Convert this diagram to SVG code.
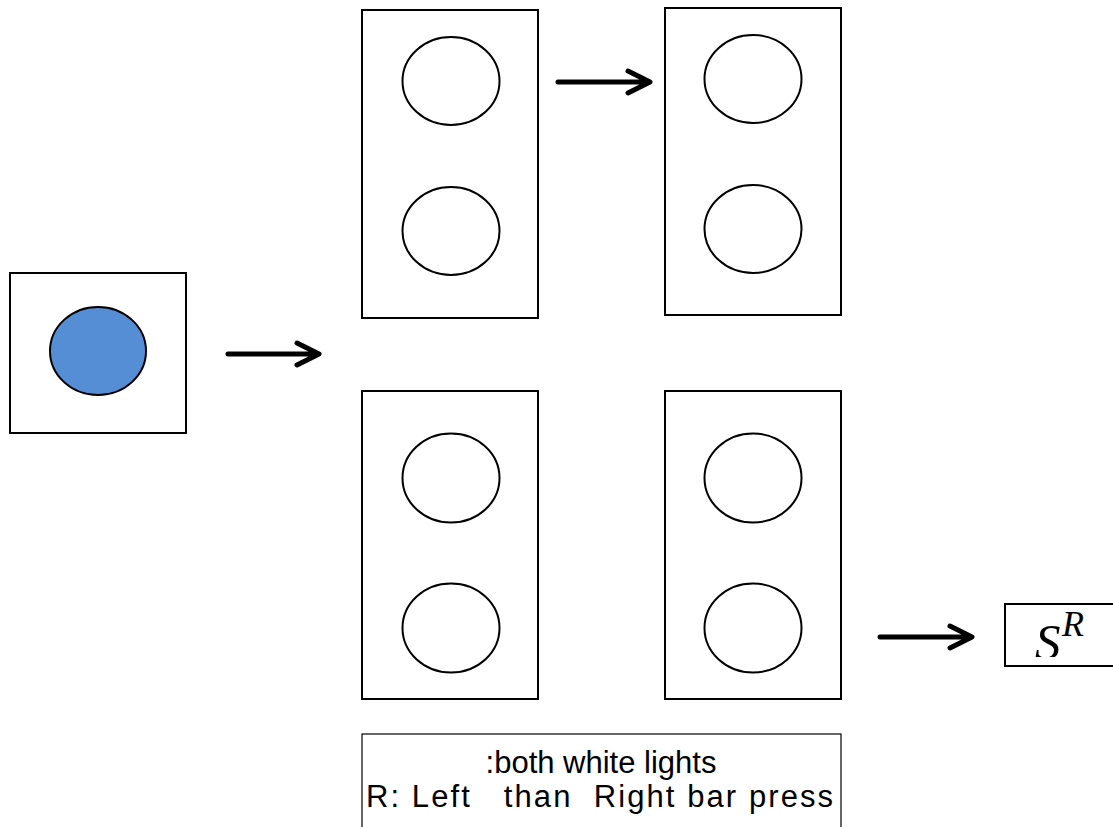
<svg xmlns="http://www.w3.org/2000/svg" width="1113" height="827" viewBox="0 0 1113 827">
  <style>
    .box { fill: #ffffff; stroke: #000000; stroke-width: 2; }
    .lamp { fill: #ffffff; stroke: #000000; stroke-width: 2; }
    .lamp-on { fill: #558ed5; stroke: #000000; stroke-width: 2; }
    .arrow { fill: none; stroke: #000000; stroke-width: 5; stroke-linecap: round; stroke-linejoin: round; }
    .label { font-family: "Liberation Sans", Arial, sans-serif; font-size: 31px; fill: #000000; }
    .math { font-family: "Liberation Serif", "Times New Roman", serif; font-style: italic; fill: #000000; }
  </style>
  <defs>
    <clipPath id="sr-clip">
      <rect x="1006" y="604" width="107" height="53"/>
    </clipPath>
  </defs>
  <rect width="1113" height="827" fill="#ffffff"/>

  <!-- sample stimulus: single blue light -->
  <g id="start">
    <rect class="box" x="10" y="273" width="176" height="160"/>
    <ellipse class="lamp-on" cx="98" cy="351" rx="48" ry="44"/>
  </g>

  <!-- choice panels, top row -->
  <g id="panel-top-left">
    <rect class="box" x="362" y="10" width="176" height="308"/>
    <ellipse class="lamp" cx="451" cy="81" rx="48.5" ry="44"/>
    <ellipse class="lamp" cx="451" cy="231" rx="48.5" ry="44"/>
  </g>
  <g id="panel-top-right">
    <rect class="box" x="665" y="8" width="176" height="307"/>
    <ellipse class="lamp" cx="753" cy="79" rx="48.5" ry="44"/>
    <ellipse class="lamp" cx="753" cy="229" rx="48.5" ry="44"/>
  </g>

  <!-- choice panels, bottom row -->
  <g id="panel-bottom-left">
    <rect class="box" x="362" y="391" width="176" height="308"/>
    <ellipse class="lamp" cx="451" cy="478" rx="48.5" ry="44.5"/>
    <ellipse class="lamp" cx="451" cy="628" rx="48.5" ry="44.5"/>
  </g>
  <g id="panel-bottom-right">
    <rect class="box" x="665" y="391" width="176" height="308"/>
    <ellipse class="lamp" cx="753" cy="478" rx="48.5" ry="44.5"/>
    <ellipse class="lamp" cx="753" cy="628" rx="48.5" ry="44.5"/>
  </g>

  <!-- reinforcer -->
  <g id="reinforcer">
    <rect class="box" x="1005" y="604" width="112" height="62" stroke-width="1.5"/>
    <g clip-path="url(#sr-clip)">
      <text class="math" x="1035" y="659" font-size="51">S</text>
    </g>
    <text class="math" x="1062" y="636" font-size="36">R</text>
  </g>

  <!-- legend -->
  <g id="legend">
    <rect x="362" y="734" width="479" height="100" fill="#ffffff" stroke="#000000" stroke-width="1.2"/>
    <text class="label" x="601" y="773" text-anchor="middle">:both white lights</text>
    <text class="label" x="366" y="807" textLength="467" lengthAdjust="spacing" xml:space="preserve">R: Left   than  Right bar press</text>
  </g>

  <!-- connectors -->
  <g id="connectors">
    <path class="arrow" d="M228 354 H317 M297 343 L319 354 L297 365"/>
    <path class="arrow" d="M558 82 H649 M628 71 L650 82 L628 93"/>
    <path class="arrow" d="M880 637 H970 M950 626 L972 637 L950 648"/>
  </g>
</svg>
